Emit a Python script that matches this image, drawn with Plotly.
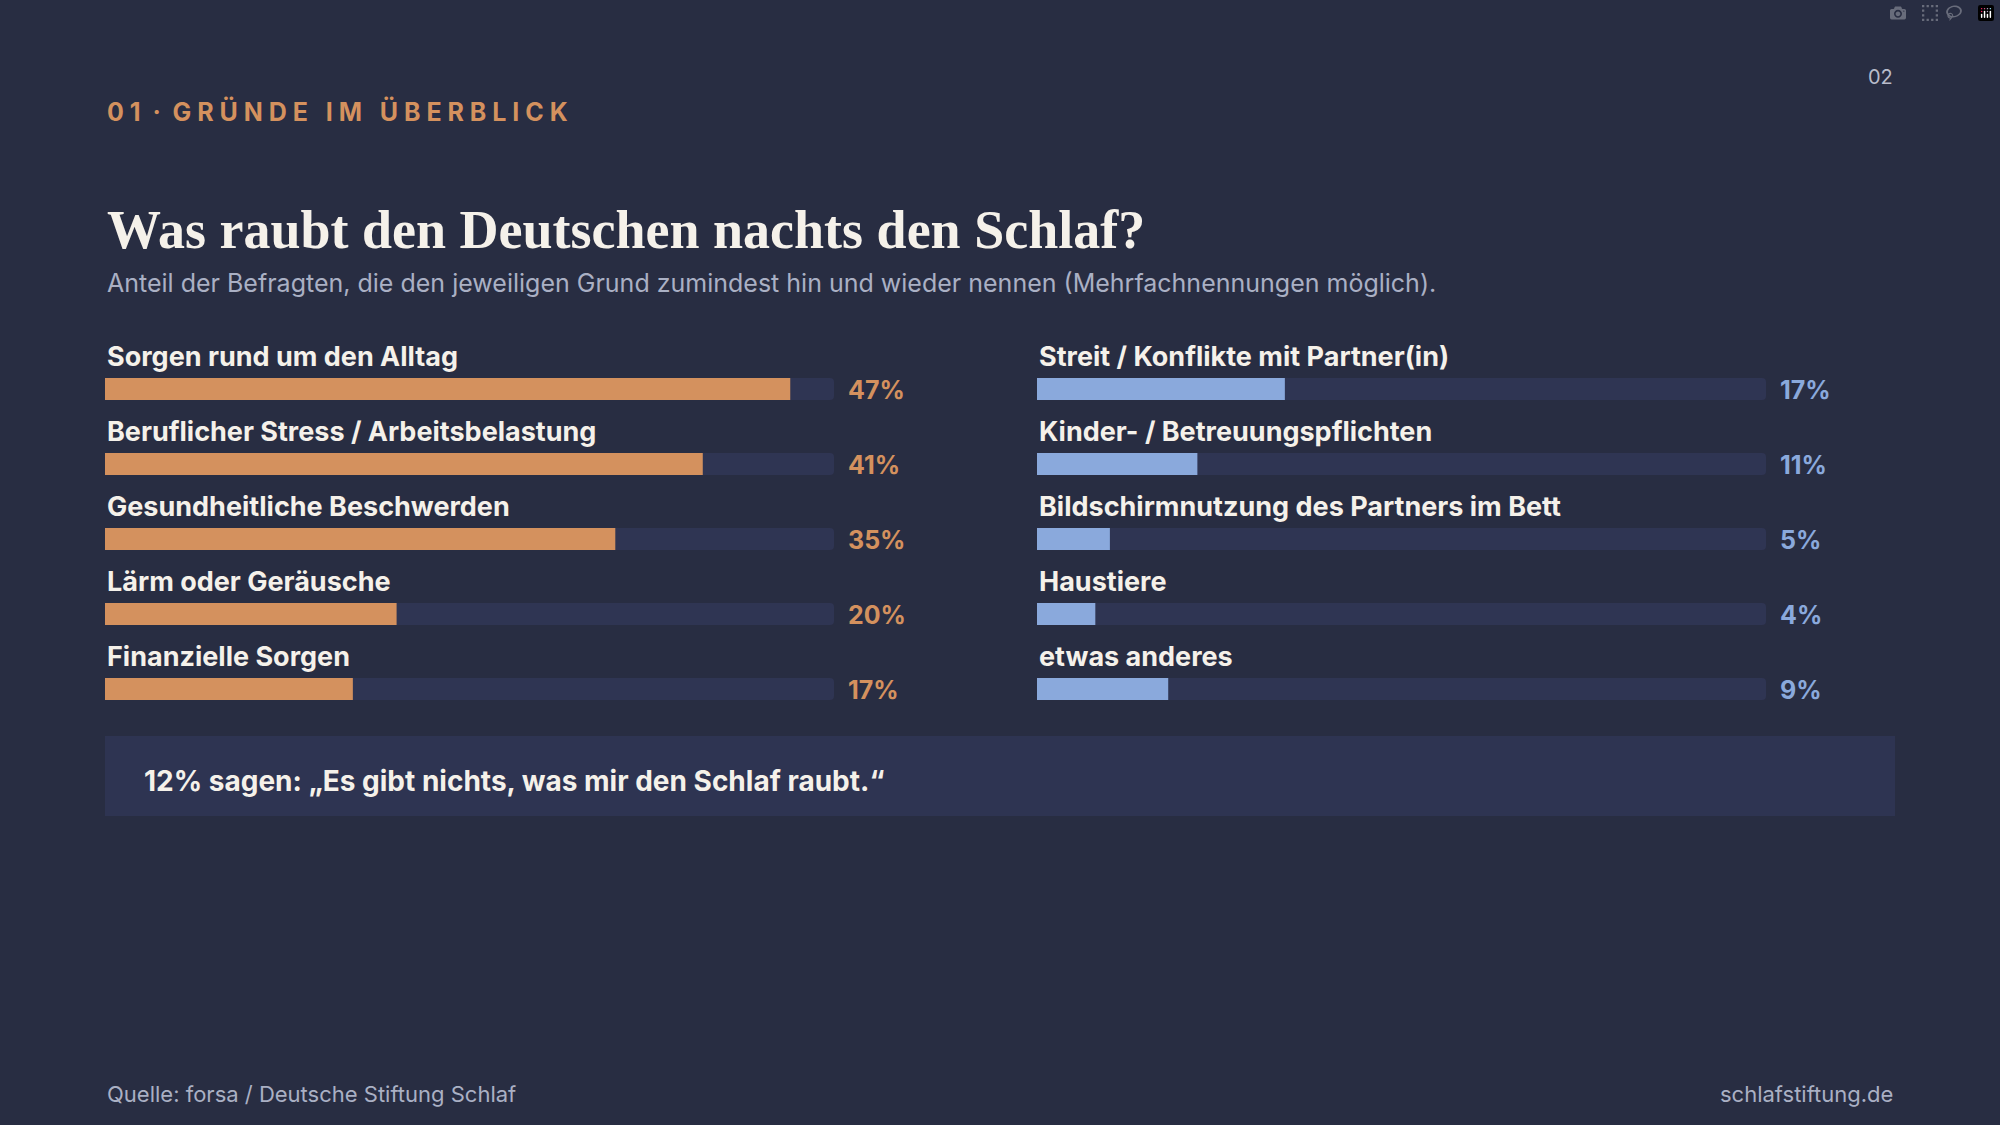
import plotly.graph_objects as go

left_labels = ["Sorgen rund um den Alltag", "Beruflicher Stress / Arbeitsbelastung",
               "Gesundheitliche Beschwerden", "Lärm oder Geräusche", "Finanzielle Sorgen"]
left_values = [47, 41, 35, 20, 17]
right_labels = ["Streit / Konflikte mit Partner(in)", "Kinder- / Betreuungspflichten",
                "Bildschirmnutzung des Partners im Bett", "Haustiere", "etwas anderes"]
right_values = [17, 11, 5, 4, 9]
scale_max = 50

BG = "#282d42"
TRACK = "#2f3553"
ORANGE = "#d4915e"
BLUE = "#8aa9dc"
WHITE = "#f5f1ea"
FONT = "Inter"

W, H = 2000, 1125
row_y = [389 + i * 75 for i in range(5)]

fig = go.Figure()
for labels, values, color, xa in [(left_labels, left_values, ORANGE, "x"),
                                  (right_labels, right_values, BLUE, "x2")]:
    fig.add_trace(go.Bar(x=[scale_max] * len(values), y=row_y, orientation="h",
                         width=22, marker=dict(color=TRACK, line_width=0), xaxis=xa, yaxis="y",
                         hoverinfo="skip", showlegend=False))
    fig.add_trace(go.Bar(x=values, y=row_y, orientation="h", width=22,
                         marker=dict(color=color, line_width=0), xaxis=xa, yaxis="y",
                         showlegend=False))
    for lab, v, y in zip(labels, values, row_y):
        fig.add_annotation(x=0, y=y - 33, xref=xa, yref="y", text=f"<b>{lab}</b>",
                           showarrow=False, xanchor="left", yanchor="middle",
                           font=dict(family=FONT, size=27, color=WHITE))
        fig.add_annotation(x=scale_max, y=y + 1, xref=xa, yref="y", text=f"<b>{v}%</b>",
                           showarrow=False, xanchor="left", yanchor="middle", xshift=12,
                           font=dict(family=FONT, size=25, color=color))

fig.update_layout(
    width=W, height=H, margin=dict(l=0, r=0, t=0, b=0),
    paper_bgcolor=BG, plot_bgcolor=BG, barmode="overlay", barcornerradius=4,
    xaxis=dict(domain=[105 / W, 834 / W], range=[0, scale_max], visible=False, fixedrange=True),
    xaxis2=dict(domain=[1037 / W, 1766 / W], range=[0, scale_max], visible=False, fixedrange=True),
    yaxis=dict(domain=[0, 1], range=[H, 0], visible=False, fixedrange=True),
)

fig.add_shape(type="rect", xref="paper", yref="paper", x0=105 / W, x1=1895 / W,
              y0=1 - 816 / H, y1=1 - 736 / H, fillcolor="#2e3452", line_width=0, layer="below")

def txt(x, y, s, size, color, family=FONT, anchor="left"):
    fig.add_annotation(x=x / W, y=1 - y / H, xref="paper", yref="paper", text=s,
                       showarrow=False, xanchor=anchor, yanchor="middle",
                       font=dict(family=family, size=size, color=color))

txt(1895, 77, "02", 20, "#b9bccb", anchor="right")
txt(105, 111, "<b>0 1  ·  G R Ü N D E   I M   Ü B E R B L I C K</b>", 25, ORANGE)
txt(105, 230, "<b>Was raubt den Deutschen nachts den Schlaf?</b>", 54, WHITE, family="Liberation Serif")
txt(105, 283, "Anteil der Befragten, die den jeweiligen Grund zumindest hin und wieder nennen (Mehrfachnennungen möglich).",
    25, "#aab0c4")
txt(142, 781, "<b>12% sagen: „Es gibt nichts, was mir den Schlaf raubt.“</b>", 28, WHITE)
txt(105, 1094, "Quelle: forsa / Deutsche Stiftung Schlaf", 22, "#aab0c4")
txt(1895, 1094, "schlafstiftung.de", 22, "#aab0c4", anchor="right")

fig.write_html("out.html",
               post_script="document.body.style.margin='0';document.body.style.background='#282d42';")
